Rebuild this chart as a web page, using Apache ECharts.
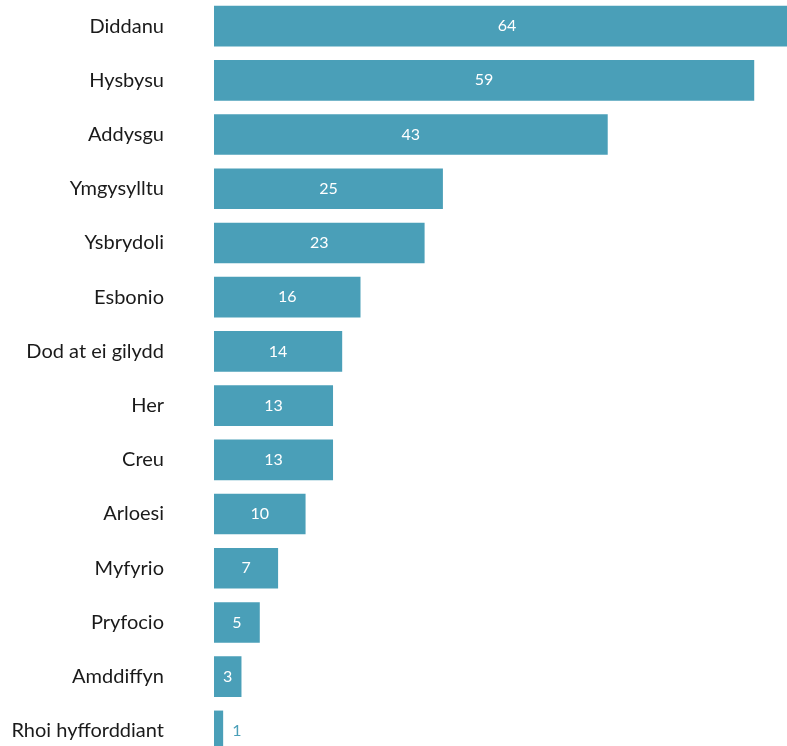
<!DOCTYPE html>
<html><head><meta charset="utf-8">
<script src="https://cdn.jsdelivr.net/npm/echarts@6/dist/echarts.min.js"></script>
<style>html,body{margin:0;padding:0;background:#fff;overflow:hidden;width:787px;height:746px}#c{position:absolute;left:0;top:-1px;width:800px;height:759px}</style>
</head><body><div id="c"></div>
<script>
var categories = ["Diddanu","Hysbysu","Addysgu","Ymgysylltu","Ysbrydoli","Esbonio","Dod at ei gilydd","Her","Creu","Arloesi","Myfyrio","Pryfocio","Amddiffyn","Rhoi hyfforddiant"];
var values = [64,59,43,25,23,16,14,13,13,10,7,5,3,1];
var barColor = '#4a9fb8';
var font = 'Lato, "Open Sans", sans-serif';
var chart = echarts.init(document.getElementById('c'));
chart.setOption({
  animation:false,
  grid:{left:214,top:0,right:0,bottom:0,containLabel:false},
  xAxis:{type:'value',min:0,max:64,show:false},
  yAxis:{type:'category',inverse:true,data:categories,
    axisLine:{show:false},axisTick:{show:false},
    axisLabel:{margin:50,fontSize:20,color:'#1a1a1a',fontFamily:font}},
  series:[{type:'bar',barWidth:'75%',
    itemStyle:{color:barColor},
    label:{show:true,position:'inside',color:'#fff',fontSize:16,fontFamily:font},
    data:values.map(function(v){
      if(v<2) return {value:v,label:{position:'right',distance:9,color:barColor}};
      return v;
    })}]
});
</script></body></html>
